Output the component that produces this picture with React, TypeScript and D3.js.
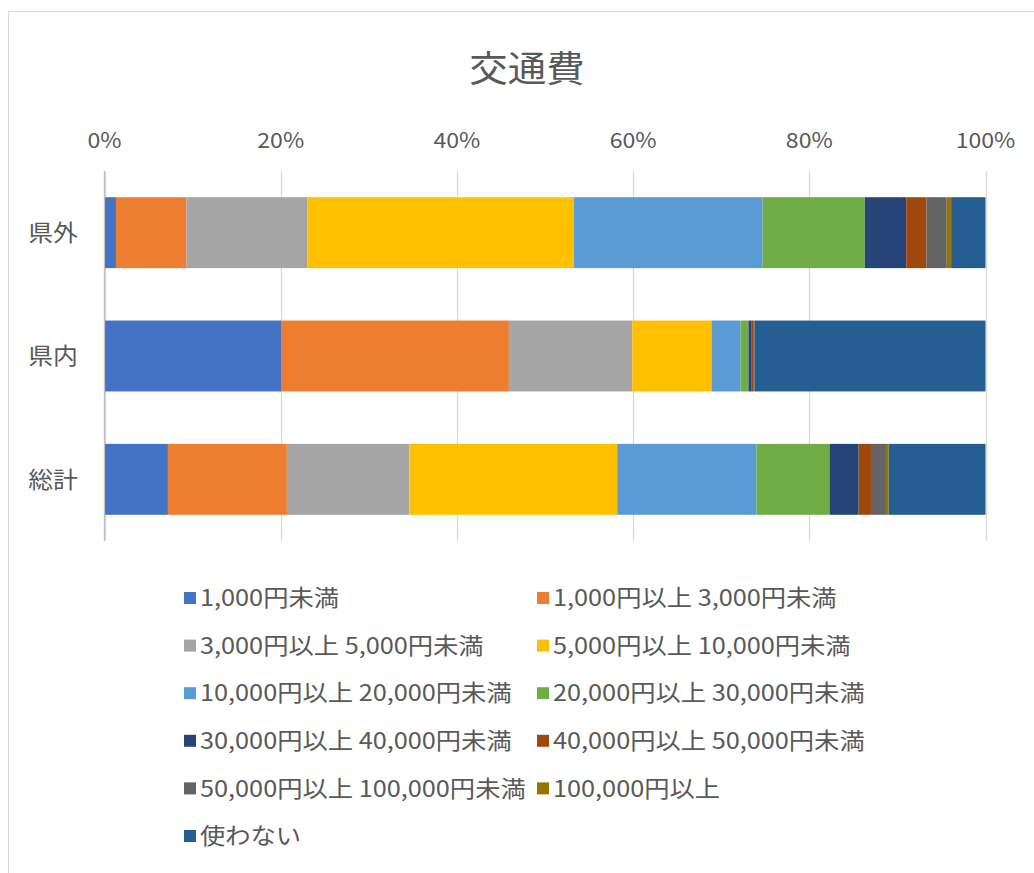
import { useEffect, useRef } from 'react'
import * as d3 from 'd3'

// categories (top to bottom)
const categories = ["県外", "県内", "総計"]

// legend / series names
const seriesNames = [
  "1,000円未満",
  "1,000円以上 3,000円未満",
  "3,000円以上 5,000円未満",
  "5,000円以上 10,000円未満",
  "10,000円以上 20,000円未満",
  "20,000円以上 30,000円未満",
  "30,000円以上 40,000円未満",
  "40,000円以上 50,000円未満",
  "50,000円以上 100,000円未満",
  "100,000円以上",
  "使わない",
]

// shares (%) per category, in series order
const kengai = [1.3, 8.0, 13.7, 30.3, 21.4, 11.6, 4.7, 2.3, 2.3, 0.5, 3.9]
const kennai = [20.1, 25.8, 14.0, 9.0, 3.3, 0.9, 0.3, 0.3, 0.1, 0.0, 26.2]
const soukei = [7.2, 13.5, 13.9, 23.6, 15.8, 8.3, 3.3, 1.4, 1.7, 0.3, 11.0]

const xTicks = [0, 0.2, 0.4, 0.6, 0.8, 1]

const colors = [
  "#4472C4", "#ED7D31", "#A5A5A5", "#FFC000", "#5B9BD5", "#70AD47",
  "#264478", "#9E480E", "#636363", "#997300", "#255E91",
]

const width = 1034
const height = 873
const font = "'Noto Sans CJK JP', 'Noto Sans', sans-serif"
const textColor = "#595959"

export default function App() {
  const svgRef = useRef<SVGSVGElement>(null)

  useEffect(() => {
    if (!svgRef.current) return
    const svg = d3.select(svgRef.current)
    svg.selectAll("*").remove()

    const rows = [kengai, kennai, soukei]
    const table = categories.map((c, i) => {
      const row: Record<string, any> = { cat: c }
      seriesNames.forEach((s, j) => { row[s] = rows[i][j] })
      return row
    })

    const stacked = d3.stack<any>()
      .keys(seriesNames)
      .offset(d3.stackOffsetExpand)(table)

    const plot = { left: 104.5, right: 985.5, top: 171, bottom: 541 }

    const x = d3.scaleLinear().domain([0, 1]).range([plot.left, plot.right])
    const y = d3.scaleBand<string>()
      .domain(categories)
      .range([plot.top, plot.bottom])
      .paddingInner(0.425)
      .paddingOuter(0.2125)

    // chart border
    svg.append("rect")
      .attr("x", 8.5).attr("y", 11.5)
      .attr("width", 1040).attr("height", 880)
      .attr("fill", "#fff")
      .attr("stroke", "#d9d9d9")

    // title
    svg.append("text")
      .attr("transform", "translate(527,82) scale(1.07,1)")
      .attr("text-anchor", "middle")
      .attr("font-family", font)
      .attr("font-size", 36)
      .attr("fill", textColor)
      .text("交通費")

    // gridlines
    svg.append("g")
      .selectAll("line")
      .data(xTicks)
      .join("line")
      .attr("x1", d => Math.round(x(d)) + 0.5)
      .attr("x2", d => Math.round(x(d)) + 0.5)
      .attr("y1", plot.top)
      .attr("y2", plot.bottom)
      .attr("stroke", "#d9d9d9")
      .attr("stroke-width", 1.3)

    // x tick labels (top)
    svg.append("g")
      .selectAll("text")
      .data(xTicks)
      .join("text")
      .attr("transform", d => `translate(${x(d)},148) scale(1.1,1)`)
      .attr("text-anchor", "middle")
      .attr("font-family", font)
      .attr("font-size", 21)
      .attr("fill", textColor)
      .text(d => d3.format(".0%")(d))

    // bars
    svg.append("g")
      .selectAll("g")
      .data(stacked)
      .join("g")
      .attr("fill", (_, i) => colors[i])
      .selectAll("rect")
      .data(d => d)
      .join("rect")
      .attr("x", d => x(d[0]))
      .attr("width", d => Math.max(0, x(d[1]) - x(d[0])))
      .attr("y", d => y(d.data.cat)!)
      .attr("height", y.bandwidth())

    // category axis line
    svg.append("line")
      .attr("x1", plot.left).attr("x2", plot.left)
      .attr("y1", plot.top).attr("y2", plot.bottom)
      .attr("stroke", "#bfbfbf")
      .attr("stroke-width", 1.3)

    // category labels
    svg.append("g")
      .selectAll("text")
      .data(categories)
      .join("text")
      .attr("transform", d => `translate(53,${y(d)! + y.bandwidth() / 2}) scale(1.08,1)`)
      .attr("dy", "0.36em")
      .attr("text-anchor", "middle")
      .attr("font-family", font)
      .attr("font-size", 23)
      .attr("fill", textColor)
      .text(d => d)

    // legend
    const legend = svg.append("g")
      .selectAll("g")
      .data(seriesNames)
      .join("g")
      .attr("transform", (_, i) => `translate(${i % 2 === 0 ? 184 : 537},${598 + Math.floor(i / 2) * 47.6})`)

    legend.append("rect")
      .attr("x", 0).attr("y", -6)
      .attr("width", 12).attr("height", 12)
      .attr("fill", (_, i) => colors[i])

    legend.append("text")
      .attr("transform", "translate(16,0) scale(1.1,1)")
      .attr("dy", "0.36em")
      .attr("font-family", font)
      .attr("font-size", 23)
      .attr("fill", textColor)
      .text(d => d)
  }, [])

  return (
    <div style={{ position: "absolute", left: 0, top: 0 }}>
      <svg ref={svgRef} width={width} height={height} style={{ display: "block" }} />
    </div>
  )
}
